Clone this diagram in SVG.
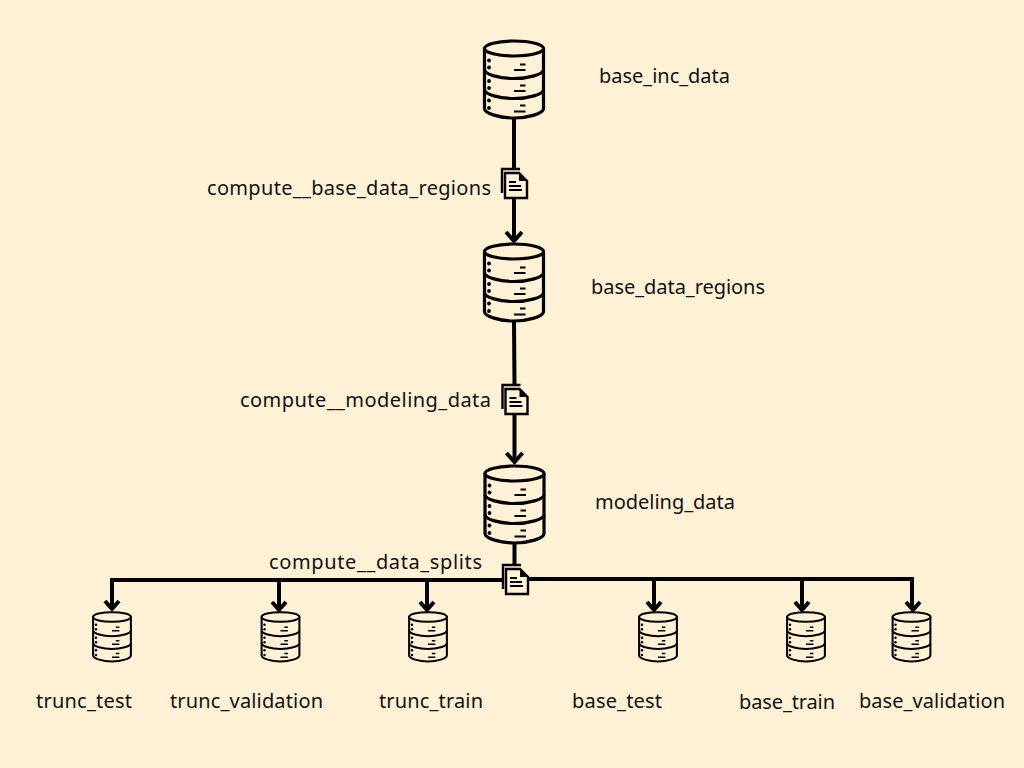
<svg xmlns="http://www.w3.org/2000/svg" width="1024" height="768" viewBox="0 0 1024 768">
<style>
.bg{fill:#fff1d5}
text{font-family:"Noto Sans","Open Sans","Liberation Sans",sans-serif;font-size:20px;fill:#111}
.c{fill:none;stroke:#000;stroke-width:4}
.a{fill:none;stroke:#000;stroke-width:4;stroke-linejoin:miter}
.d{fill:#fff1d5;stroke:#000;stroke-width:3.200;stroke-linejoin:round}
.b{fill:none;stroke:#000;stroke-width:3.200}
.t{fill:none;stroke:#000;stroke-width:2.200}
.p{fill:#fff1d5;stroke:#000;stroke-width:2.400}
.l{fill:none;stroke:#000;stroke-width:2}
</style>
<defs>
<g id="db">
<path class="d" d="M-29.500 0V60C-29.500 65-14 69.500 0 69.500S29.500 65 29.500 60V0Z"/>
<ellipse class="d" cx="0" cy="0" rx="29.500" ry="7.500"/>
<path class="b" d="M-29.500 21C-29.500 26-14 30 0 30S29.500 26 29.500 21M-29.500 41C-29.500 46-14 50 0 50S29.500 46 29.500 41"/>
<g fill="#000"><circle cx="-25" cy="12" r="1.900"/><circle cx="-25" cy="19" r="1.900"/><circle cx="-25" cy="32.500" r="1.900"/><circle cx="-25" cy="39.500" r="1.900"/><circle cx="-25" cy="52" r="1.900"/><circle cx="-25" cy="59.500" r="1.900"/></g>
<path class="t" d="M0 21.500H11.500M6 16H11.500M0 42.500H11.500M6 37H11.500M0 63H11.500M6 57H11.500"/>
</g>
<g id="doc">
<path class="p" d="M-12 8V-16H6"/>
<path class="p" d="M-9 -12H5L13 -4V13H-9Z"/>
<path d="M5 -12V-4H13Z" fill="#000"/>
<path class="l" d="M-5 -3H2M-5 1H7M-5 5H8"/>
</g>
</defs>
<rect class="bg" width="1024" height="768"/>
<g id="connectors">
<path class="c" d="M514 118V168M514 198V241M514 322L514.500 385M514.500 414V462M514.500 544V566M502 580H112V610M912 580V610M527 579H914"/>
<path class="c" d="M279 580V611M427 580V611M654 580V611M802 580V611"/>
<path class="a" d="M506 232L514 241L522 232M506.500 453L514.500 462L522.500 453M105 601L112 609L119 601M272 602L279 610L286 602M420 602L427 610L434 602M647 602L654 610L661 602M795 602L802 610L809 602M906 602L913 610L920 602"/>
</g>
<g id="node-base_inc_data"><use href="#db" transform="translate(514 48.500)"/><text x="599" y="83" textLength="131">base_inc_data</text></g>
<g id="node-compute_base_data_regions"><use href="#doc" transform="translate(514 185)"/><text x="207" y="195" textLength="284">compute__base_data_regions</text></g>
<g id="node-base_data_regions"><use href="#db" transform="translate(514 251.500)"/><text x="591" y="294" textLength="174">base_data_regions</text></g>
<g id="node-compute_modeling_data"><use href="#doc" transform="translate(514.500 401)"/><text x="240" y="407" textLength="251">compute__modeling_data</text></g>
<g id="node-modeling_data"><use href="#db" transform="translate(514.500 473.500)"/><text x="595" y="509" textLength="140">modeling_data</text></g>
<g id="node-compute_data_splits"><use href="#doc" transform="translate(515 581)"/><text x="269" y="569" textLength="213">compute__data_splits</text></g>
<g id="node-trunc_test"><use href="#db" transform="translate(112 617) scale(.64)"/><text x="36" y="708" textLength="96">trunc_test</text></g>
<g id="node-trunc_validation"><use href="#db" transform="translate(280.500 617) scale(.64)"/><text x="170" y="708" textLength="153">trunc_validation</text></g>
<g id="node-trunc_train"><use href="#db" transform="translate(428 617) scale(.64)"/><text x="379" y="708" textLength="104">trunc_train</text></g>
<g id="node-base_test"><use href="#db" transform="translate(658 617) scale(.64)"/><text x="572" y="708" textLength="90">base_test</text></g>
<g id="node-base_train"><use href="#db" transform="translate(806 617) scale(.64)"/><text x="739" y="709" textLength="96">base_train</text></g>
<g id="node-base_validation"><use href="#db" transform="translate(911.500 617) scale(.64)"/><text x="859" y="708" textLength="146">base_validation</text></g>
</svg>
